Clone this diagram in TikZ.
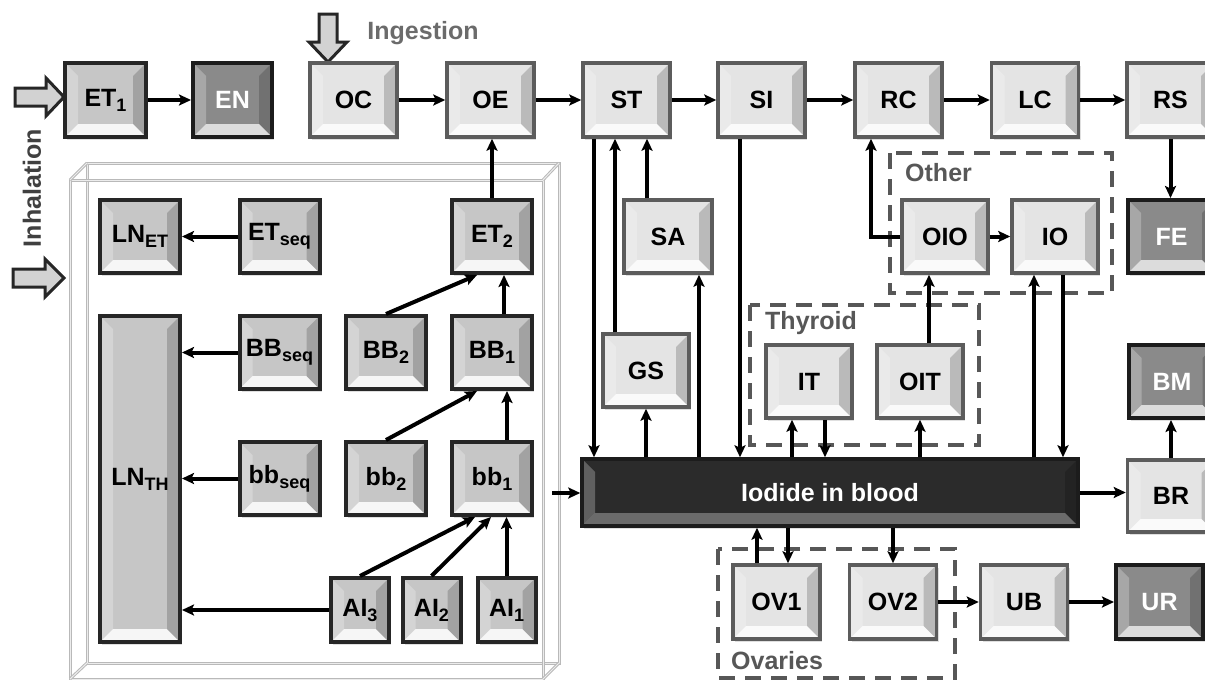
\documentclass[tikz,border=0pt]{standalone}
\usepackage{fontspec}
\setmainfont{Liberation Sans}
\usetikzlibrary{arrows.meta,shadows}
\definecolor{lightfill}{HTML}{E4E4E4}
\definecolor{lightline}{HTML}{5C5C5C}
\definecolor{midfill}{HTML}{C6C6C6}
\definecolor{midline}{HTML}{262626}
\definecolor{darkfill}{HTML}{8A8A8A}
\definecolor{darkline}{HTML}{1C1C1C}
\definecolor{poolfill}{HTML}{2B2B2B}
\definecolor{organline}{HTML}{575757}
\newcommand{\lsub}[1]{\raisebox{-5pt}{\fontsize{18}{18}\selectfont #1}}
\begin{document}
\begin{tikzpicture}[x=1pt, y=-1pt,
    bevel/.style={path picture={
      \fill[white, opacity=#1] (path picture bounding box.south west) -- (path picture bounding box.south east)
        -- ([xshift=-13pt, yshift=13pt]path picture bounding box.south east) -- ([xshift=13pt, yshift=13pt]path picture bounding box.south west) -- cycle;
      \fill[black, opacity=.18] (path picture bounding box.south east) -- (path picture bounding box.north east)
        -- ([xshift=-13pt, yshift=-13pt]path picture bounding box.north east) -- ([xshift=-13pt, yshift=13pt]path picture bounding box.south east) -- cycle;
      \fill[white, opacity=.25] (path picture bounding box.south west) -- (path picture bounding box.north west)
        -- ([xshift=13pt, yshift=-13pt]path picture bounding box.north west) -- ([xshift=13pt, yshift=13pt]path picture bounding box.south west) -- cycle;
    }},
    bevel/.default=.85,
    cbox/.style={rectangle, draw, line width=3.5pt, inner sep=0pt, minimum width=87pt, minimum height=74pt,
      font=\bfseries\fontsize{25}{28}\selectfont, drop shadow={shadow xshift=2pt, shadow yshift=-3pt, opacity=.25}},
    lightbox/.style={cbox, fill=lightfill, draw=lightline, bevel},
    midbox/.style={cbox, fill=midfill, draw=midline, line width=4pt, minimum width=80pt, minimum height=73pt, bevel},
    darkbox/.style={cbox, fill=darkfill, draw=darkline, line width=4pt, text=white, bevel=.7},
    poolbox/.style={cbox, fill=poolfill, draw=darkline, text=white, minimum width=496pt, minimum height=67pt, bevel=.3},
    conn/.style={line width=4pt, -{Stealth[length=12pt, width=11pt, inset=2.5pt]}},
    organ/.style={draw=organline, line width=3.5pt, dash pattern=on 16pt off 10pt},
    organlabel/.style={font=\bfseries\fontsize{25}{28}\selectfont, text=organline, inner sep=0pt, anchor=west},
    hollow/.style={draw=black!85, fill=gray!35, line width=3pt},
    lungframe/.style={draw=gray!55, line width=1pt, double=white!85!gray, double distance=1pt}
  ]
  \useasboundingbox (0,0) rectangle (1205,680);
  \clip (0,0) rectangle (1205,680);

  \draw[lungframe] (87,163) rectangle (559,663);
  \draw[lungframe] (70,180) rectangle (543,679);
  \draw[lungframe] (70,180) -- (87,163) (543,180) -- (559,163) (70,679) -- (87,663) (543,679) -- (559,663);

  \draw[organ] (890,153) rectangle (1112,293);
  \draw[organ] (750,305) rectangle (979,445);
  \draw[organ] (718,549) rectangle (955,678);
  \node[organlabel] (other) at (905,173) {Other};
  \node[organlabel] (thyroid) at (765,323) {Thyroid};
  \node[organlabel] (ovaries) at (731,661) {Ovaries};

  \draw[hollow] (15,88) -- (46,88) -- (46,78) -- (64,97) -- (46,116) -- (46,106) -- (15,106) -- cycle;
  \draw[hollow] (13,269) -- (45,269) -- (45,259) -- (64,278) -- (45,297) -- (45,287) -- (13,287) -- cycle;
  \draw[hollow] (319,14) -- (337,14) -- (337,42) -- (347,42) -- (328,62) -- (309,42) -- (319,42) -- cycle;
  \node[font=\bfseries\fontsize{25}{28}\selectfont, text=black!58] (ingestion) at (423,33) {Ingestion};
  \node[font=\bfseries\fontsize{25}{28}\selectfont, text=black!75, rotate=90] (inhalation) at (32,188) {Inhalation};

  \node[midbox, minimum width=81pt, minimum height=74pt] (et1) at (105.5,100) {ET\lsub{1}};
  \node[darkbox, minimum width=79pt] (en) at (232.5,100) {EN};
  \node[lightbox] (oc) at (353.5,100) {OC};
  \node[lightbox] (oe) at (490.5,100) {OE};
  \node[lightbox] (st) at (626.5,100) {ST};
  \node[lightbox] (si) at (761.5,100) {SI};
  \node[lightbox] (rc) at (898.5,100) {RC};
  \node[lightbox] (lc) at (1035,100) {LC};
  \node[lightbox] (rs) at (1170.5,100) {RS};

  \node[midbox] (lnet) at (140,236.5) {LN\lsub{ET}};
  \node[midbox] (etseq) at (279.5,236.5) {ET\lsub{seq}};
  \node[midbox] (et2) at (492,236.5) {ET\lsub{2}};
  \node[midbox, minimum height=326pt] (LNTH) at (140,479) {LN\lsub{TH}};
  \node[midbox] (BBseq) at (279.5,352.5) {BB\lsub{seq}};
  \node[midbox] (BB2) at (386,352.5) {BB\lsub{2}};
  \node[midbox] (BB1) at (492,352.5) {BB\lsub{1}};
  \node[midbox] (bbseq) at (279.5,478.5) {bb\lsub{seq}};
  \node[midbox] (bb2) at (386,478.5) {bb\lsub{2}};
  \node[midbox] (bb1) at (492,478.5) {bb\lsub{1}};
  \node[midbox, minimum width=58pt, minimum height=64pt] (AI3) at (360,610) {AI\lsub{3}};
  \node[midbox, minimum width=58pt, minimum height=64pt] (AI2) at (431.5,610) {AI\lsub{2}};
  \node[midbox, minimum width=58pt, minimum height=64pt] (AI1) at (506.5,610) {AI\lsub{1}};

  \node[lightbox, minimum width=88pt, minimum height=73pt] (sa) at (668,236.5) {SA};
  \node[lightbox, minimum width=86pt, minimum height=73pt] (gs) at (646,370.5) {GS};
  \node[lightbox, minimum width=86pt, minimum height=73pt] (oio) at (945,236.5) {OIO};
  \node[lightbox, minimum width=86pt, minimum height=73pt] (io) at (1055,236.5) {IO};
  \node[darkbox, minimum height=73pt] (fe) at (1171.5,236.5) {FE};
  \node[lightbox, minimum width=86pt, minimum height=73pt] (it) at (809,381.5) {IT};
  \node[lightbox, minimum width=86pt, minimum height=73pt] (oit) at (920,381.5) {OIT};
  \node[darkbox, minimum height=73pt] (bm) at (1172,381.5) {BM};
  \node[poolbox] (blood) at (830,492.5) {Iodide in blood};
  \node[lightbox, minimum height=72pt] (br) at (1171,496) {BR};
  \node[lightbox] (ov1) at (776.5,602) {OV1};
  \node[lightbox] (ov2) at (893,602) {OV2};
  \node[lightbox] (ub) at (1024,602) {UB};
  \node[darkbox] (ur) at (1159.5,602) {UR};

  \draw[conn] (et1) -- (en);
  \draw[conn] (oc) -- (oe);
  \draw[conn] (oe) -- (st);
  \draw[conn] (st) -- (si);
  \draw[conn] (si) -- (rc);
  \draw[conn] (rc) -- (lc);
  \draw[conn] (lc) -- (rs);
  \draw[conn] (rs.south) -- (rs.south |- fe.north);
  \draw[conn] (br.north) -- (br.north |- bm.south);

  \draw[conn] (etseq) -- (lnet);
  \draw[conn] (BBseq) -- (BBseq -| LNTH.east);
  \draw[conn] (bbseq) -- (bbseq -| LNTH.east);
  \draw[conn] (AI3) -- (AI3 -| LNTH.east);
  \draw[conn] (et2.north) -- (et2.north |- oe.south);
  \draw[conn] ([xshift=12pt]BB1.north) -- ([xshift=12pt]et2.south);
  \draw[conn] ([xshift=15pt]bb1.north) -- ([xshift=15pt]BB1.south);
  \draw[conn] (AI1.north) -- (AI1.north |- bb1.south);
  \draw[conn] (BB2.north) -- ([xshift=-15pt]et2.south);
  \draw[conn] (bb2.north) -- ([xshift=-15pt]BB1.south);
  \draw[conn] (AI3.north) -- ([xshift=-17pt]bb1.south);
  \draw[conn] (AI2.north) -- ([xshift=-1pt]bb1.south);
  \coordinate (lungout) at (552,493);
  \draw[conn] (lungout) -- (lungout -| blood.west);
  \draw[conn] (blood) -- (blood -| br.west);

  \draw[conn] ([xshift=-32.5pt]st.south) -- ([xshift=-32.5pt]st.south |- blood.north);
  \draw[conn] ([xshift=-31pt]gs.north) -- ([xshift=-31pt]gs.north |- st.south);
  \draw[conn] ([xshift=-21pt]sa.north) -- ([xshift=-21pt]sa.north |- st.south);
  \draw[conn] (gs.south |- blood.north) -- (gs.south);
  \draw[conn] ([xshift=31pt]sa.south |- blood.north) -- ([xshift=31pt]sa.south);
  \draw[conn] ([xshift=-21.5pt]si.south) -- ([xshift=-21.5pt]si.south |- blood.north);
  \draw[conn] ([xshift=-17pt]it.south |- blood.north) -- ([xshift=-17pt]it.south);
  \draw[conn] ([xshift=16pt]it.south) -- ([xshift=16pt]it.south |- blood.north);
  \draw[conn] (oit.south |- blood.north) -- (oit.south);
  \draw[conn] ([xshift=9pt]oit.north) -- ([xshift=9pt]oit.north |- oio.south);
  \draw[conn] (oio) -- (io);
  \draw[conn] (oio.west) -| ([xshift=-27.5pt]rc.south);
  \draw[conn] ([xshift=-21pt]io.south |- blood.north) -- ([xshift=-21pt]io.south);
  \draw[conn] ([xshift=8pt]io.south) -- ([xshift=8pt]io.south |- blood.north);
  \draw[conn] ([xshift=-19.5pt]ov1.north) -- ([xshift=-19.5pt]ov1.north |- blood.south);
  \draw[conn] ([xshift=11.5pt]ov1.north |- blood.south) -- ([xshift=11.5pt]ov1.north);
  \draw[conn] (ov2.north |- blood.south) -- (ov2.north);
  \draw[conn] (ov2) -- (ub);
  \draw[conn] (ub) -- (ur);
\end{tikzpicture}
\end{document}
